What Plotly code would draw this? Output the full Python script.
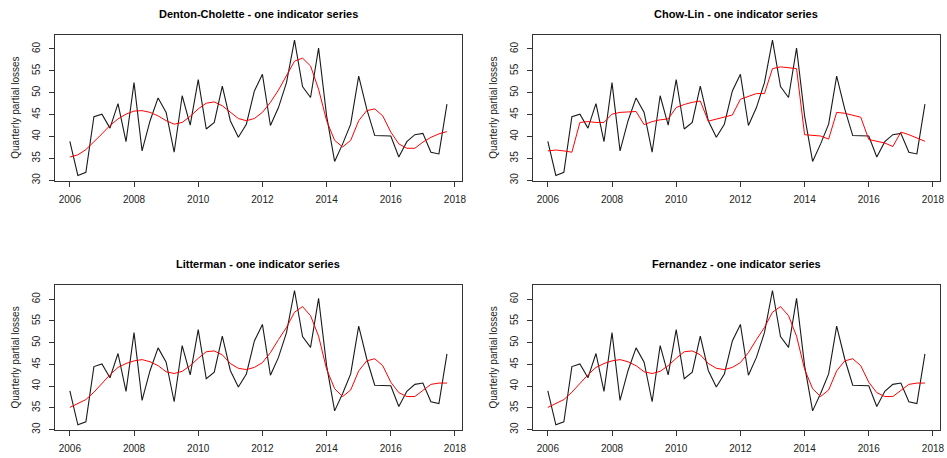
import plotly.graph_objects as go

W, H = 947, 458

# Quarterly time index 2006Q1 .. 2017Q4
quarters = [2006 + i * 0.25 for i in range(48)]

observed = [38.9, 31.1, 31.8, 44.5, 45.1, 41.9, 47.5, 38.8,
            52.3, 36.7, 43.6, 48.8, 45.5, 36.4, 49.3, 42.6,
            53.0, 41.7, 43.2, 51.5, 43.6, 39.8, 42.8, 50.4,
            54.2, 42.5, 46.6, 52.3, 62.0, 51.4, 48.9, 60.2,
            44.7, 34.3, 38.3, 42.8, 53.8, 46.3, 40.2, 40.2,
            40.1, 35.3, 38.8, 40.4, 40.7, 36.4, 36.0, 47.4]

denton = [35.3, 35.8, 37.0, 38.7, 40.6, 42.5, 44.0, 45.1,
          45.8, 45.9, 45.5, 44.7, 43.6, 42.8, 43.2, 44.6,
          46.3, 47.6, 47.9, 47.0, 45.5, 44.1, 43.6, 44.1,
          45.5, 47.8, 50.6, 54.0, 57.2, 57.9, 56.1, 50.8,
          43.6, 39.1, 37.6, 39.1, 43.6, 45.9, 46.3, 44.7,
          41.0, 38.3, 37.3, 37.3, 38.7, 39.8, 40.6, 41.1]

chowlin = [36.7, 36.9, 36.7, 36.4, 43.2, 43.4, 43.2, 43.2,
           45.1, 45.5, 45.6, 45.7, 42.7, 43.4, 43.8, 44.0,
           46.6, 47.3, 47.8, 48.1, 43.5, 44.0, 44.5, 44.9,
           48.5, 49.1, 49.8, 49.8, 55.5, 55.9, 55.7, 55.5,
           40.4, 40.2, 40.1, 39.4, 45.5, 45.3, 44.9, 44.4,
           39.3, 38.9, 38.5, 37.7, 41.0, 40.4, 39.7, 38.9]

litterman = [35.1, 36.0, 36.9, 38.6, 40.7, 42.6, 44.3, 45.2,
             45.8, 46.1, 45.6, 44.7, 43.3, 42.9, 43.4, 44.7,
             46.4, 47.9, 48.1, 47.2, 45.2, 44.1, 43.8, 44.3,
             45.4, 47.7, 50.7, 53.5, 57.0, 58.3, 56.2, 51.5,
             43.9, 39.4, 37.6, 39.1, 43.5, 45.8, 46.3, 44.7,
             40.9, 38.5, 37.6, 37.6, 39.0, 40.4, 40.7, 40.7]

fernandez = [35.1, 36.0, 36.9, 38.6, 40.7, 42.6, 44.3, 45.2,
             45.8, 46.1, 45.6, 44.7, 43.3, 42.9, 43.4, 44.7,
             46.4, 47.9, 48.1, 47.2, 45.2, 44.1, 43.8, 44.3,
             45.4, 47.7, 50.7, 53.5, 57.0, 58.3, 56.2, 51.5,
             43.9, 39.4, 37.6, 39.1, 43.5, 45.8, 46.3, 44.7,
             40.9, 38.5, 37.6, 37.6, 39.0, 40.4, 40.7, 40.7]

titles = ["Denton-Cholette - one indicator series",
          "Chow-Lin - one indicator series",
          "Litterman - one indicator series",
          "Fernandez - one indicator series"]
estimates = [denton, chowlin, litterman, fernandez]

x_ticks = [2006, 2008, 2010, 2012, 2014, 2016, 2018]
y_ticks = [30, 35, 40, 45, 50, 55, 60]
y_title = "Quarterly partial losses"

# panel boxes in window pixels (left, right, top, bottom)
boxes = [(55, 464, 35, 182), (535, 944, 35, 182),
         (55, 464, 287, 433), (535, 944, 287, 433)]

FONT = "Liberation Sans, Arial, sans-serif"
TXT = "#222222"

fig = go.Figure()
layout = dict(
    width=W, height=H,
    margin=dict(l=0, r=0, t=0, b=0),
    paper_bgcolor="white", plot_bgcolor="white",
    showlegend=False, hovermode=False,
    font=dict(family=FONT, color=TXT, size=10),
)
annotations = []

xmin, xmax = quarters[0], quarters[-1]
xpad = (xmax - xmin) * 0.04
ymin, ymax = min(observed), max(observed)
ypad = (ymax - ymin) * 0.04


def px_x(v):
    return v / W


def px_y(v):
    return 1 - v / H


for i, (title, est, box) in enumerate(zip(titles, estimates, boxes)):
    n = "" if i == 0 else str(i + 1)
    xa, ya = "x" + n, "y" + n
    l, r, t, b = box
    fig.add_trace(go.Scatter(x=quarters, y=observed, mode="lines",
                             line=dict(color="#1a1a1a", width=1.1),
                             xaxis=xa, yaxis=ya))
    fig.add_trace(go.Scatter(x=quarters, y=est, mode="lines",
                             line=dict(color="#ff0000", width=1),
                             xaxis=xa, yaxis=ya))
    axcommon = dict(showgrid=False, zeroline=False, showline=True,
                    linecolor="#333333", linewidth=1, mirror=True,
                    ticks="outside", ticklen=5, tickwidth=1,
                    tickcolor="#333333",
                    tickfont=dict(family=FONT, size=10, color=TXT))
    layout["xaxis" + n] = dict(
        domain=[px_x(l), px_x(r)], anchor=ya,
        range=[xmin - xpad, xmax + xpad],
        tickmode="array", tickvals=x_ticks,
        ticktext=[str(v) for v in x_ticks], ticklabelstandoff=4,
        **axcommon)
    layout["yaxis" + n] = dict(
        domain=[px_y(b), px_y(t)], anchor=xa,
        range=[ymin - ypad, ymax + ypad],
        tickmode="array", tickvals=y_ticks,
        ticktext=[str(v) for v in y_ticks], tickangle=-90,
        ticklabelstandoff=5, **axcommon)
    annotations.append(dict(
        text="<b>" + title + "</b>", xref="paper", yref="paper",
        x=px_x((l + r) / 2), y=px_y(t - 21), showarrow=False,
        xanchor="center", yanchor="middle",
        font=dict(family=FONT, size=11, color="#000000")))
    annotations.append(dict(
        text=y_title, xref="paper", yref="paper",
        x=px_x(l - 39), y=px_y((t + b) / 2), showarrow=False,
        textangle=-90, xanchor="center", yanchor="middle",
        font=dict(family=FONT, size=10, color=TXT)))

layout["annotations"] = annotations
fig.update_layout(**layout)
fig.write_html(
    "out.html",
    config={"displayModeBar": False},
    post_script="document.body.style.margin='0';"
                "document.body.style.overflow='hidden';",
)
